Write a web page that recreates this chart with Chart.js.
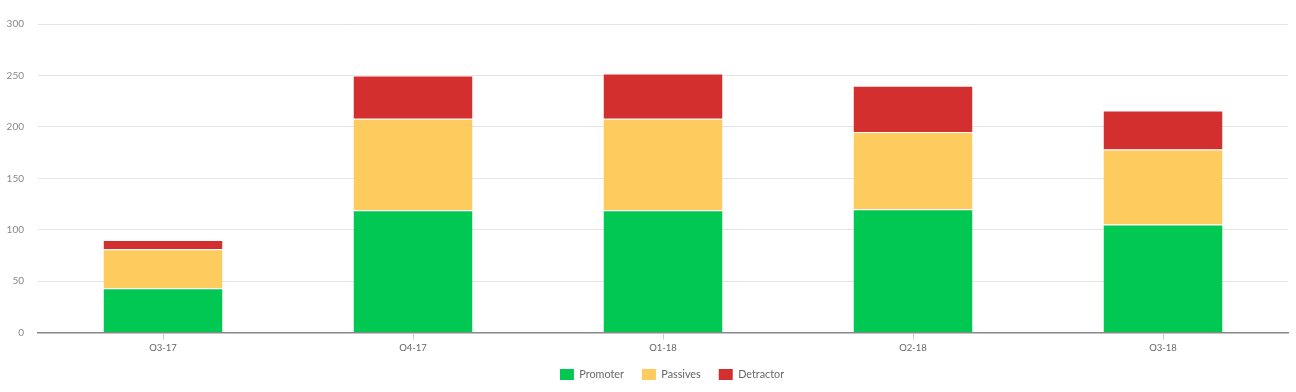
<!DOCTYPE html>
<html>
<head>
<meta charset="utf-8">
<script src="https://cdn.jsdelivr.net/npm/chart.js@4/dist/chart.umd.min.js"></script>
<style>
  html, body { margin: 0; padding: 0; background: #fff; }
  #wrap { width: 1296px; height: 392px; }
</style>
</head>
<body>
<div id="wrap"><canvas id="c"></canvas></div>
<script>
const categories = ["Q3-17", "Q4-17", "Q1-18", "Q2-18", "Q3-18"];
const promoter = [43, 119, 119, 120, 105];
const passives = [38, 89, 89, 75, 73];
const detractor = [9, 42, 44, 45, 38];
const yTicks = [0, 50, 100, 150, 200, 250, 300];

const FONT = "Lato, 'Open Sans', sans-serif";
Chart.defaults.font.family = FONT;

const barCommon = {
  barPercentage: 0.476,
  categoryPercentage: 1.0,
  borderColor: "rgba(255,255,255,0.9)",
  borderWidth: { top: 1, left: 0, right: 0, bottom: 0 },
  borderSkipped: false
};

const legendShift = {
  id: "legendShift",
  afterLayout(chart) {
    const lg = chart.legend;
    if (!lg) return;
    const dx = 28;
    lg.left += dx;
    lg.right += dx;
    if (lg.legendHitBoxes) lg.legendHitBoxes.forEach(h => { h.left += dx; });
  }
};

new Chart(document.getElementById("c"), {
  type: "bar",
  data: {
    labels: categories,
    datasets: [
      Object.assign({ label: "Promoter", data: promoter, backgroundColor: "#00c853" }, barCommon),
      Object.assign({ label: "Passives", data: passives, backgroundColor: "#fecb5e" }, barCommon),
      Object.assign({ label: "Detractor", data: detractor, backgroundColor: "#d32f2f" }, barCommon)
    ]
  },
  plugins: [legendShift],
  options: {
    responsive: true,
    maintainAspectRatio: false,
    animation: false,
    layout: { padding: { top: 24, right: 8, left: 0, bottom: 2 } },
    plugins: {
      tooltip: { enabled: false },
      legend: {
        position: "bottom",
        labels: {
          boxWidth: 14,
          boxHeight: 11,
          padding: 18,
          color: "#666",
          font: { size: 10.8, family: FONT },
          generateLabels: (chart) => chart.data.datasets.map((ds, i) => ({
            text: ds.label,
            fillStyle: ds.backgroundColor,
            strokeStyle: ds.backgroundColor,
            lineWidth: 0,
            hidden: false,
            datasetIndex: i,
            fontColor: "#666"
          }))
        }
      }
    },
    scales: {
      x: {
        stacked: true,
        offset: true,
        afterFit: (scale) => { scale.height = scale.height - 6; },
        grid: {
          offset: false,
          drawOnChartArea: false,
          drawTicks: true,
          tickLength: 7,
          color: "#d0d0d0"
        },
        border: { display: true, color: "#888", width: 1.5 },
        ticks: { color: "#666", font: { size: 9.5, family: FONT }, padding: 3 }
      },
      y: {
        stacked: true,
        min: 0,
        max: 300,
        afterBuildTicks: (scale) => { scale.ticks = yTicks.map(v => ({ value: v })); },
        afterFit: (scale) => { scale.width = 38; },
        grid: { color: "#e4e4e4", drawTicks: false, lineWidth: 1 },
        border: { display: false },
        ticks: { color: "#888", font: { size: 10, family: FONT }, padding: 14 }
      }
    }
  }
});
</script>
</body>
</html>
